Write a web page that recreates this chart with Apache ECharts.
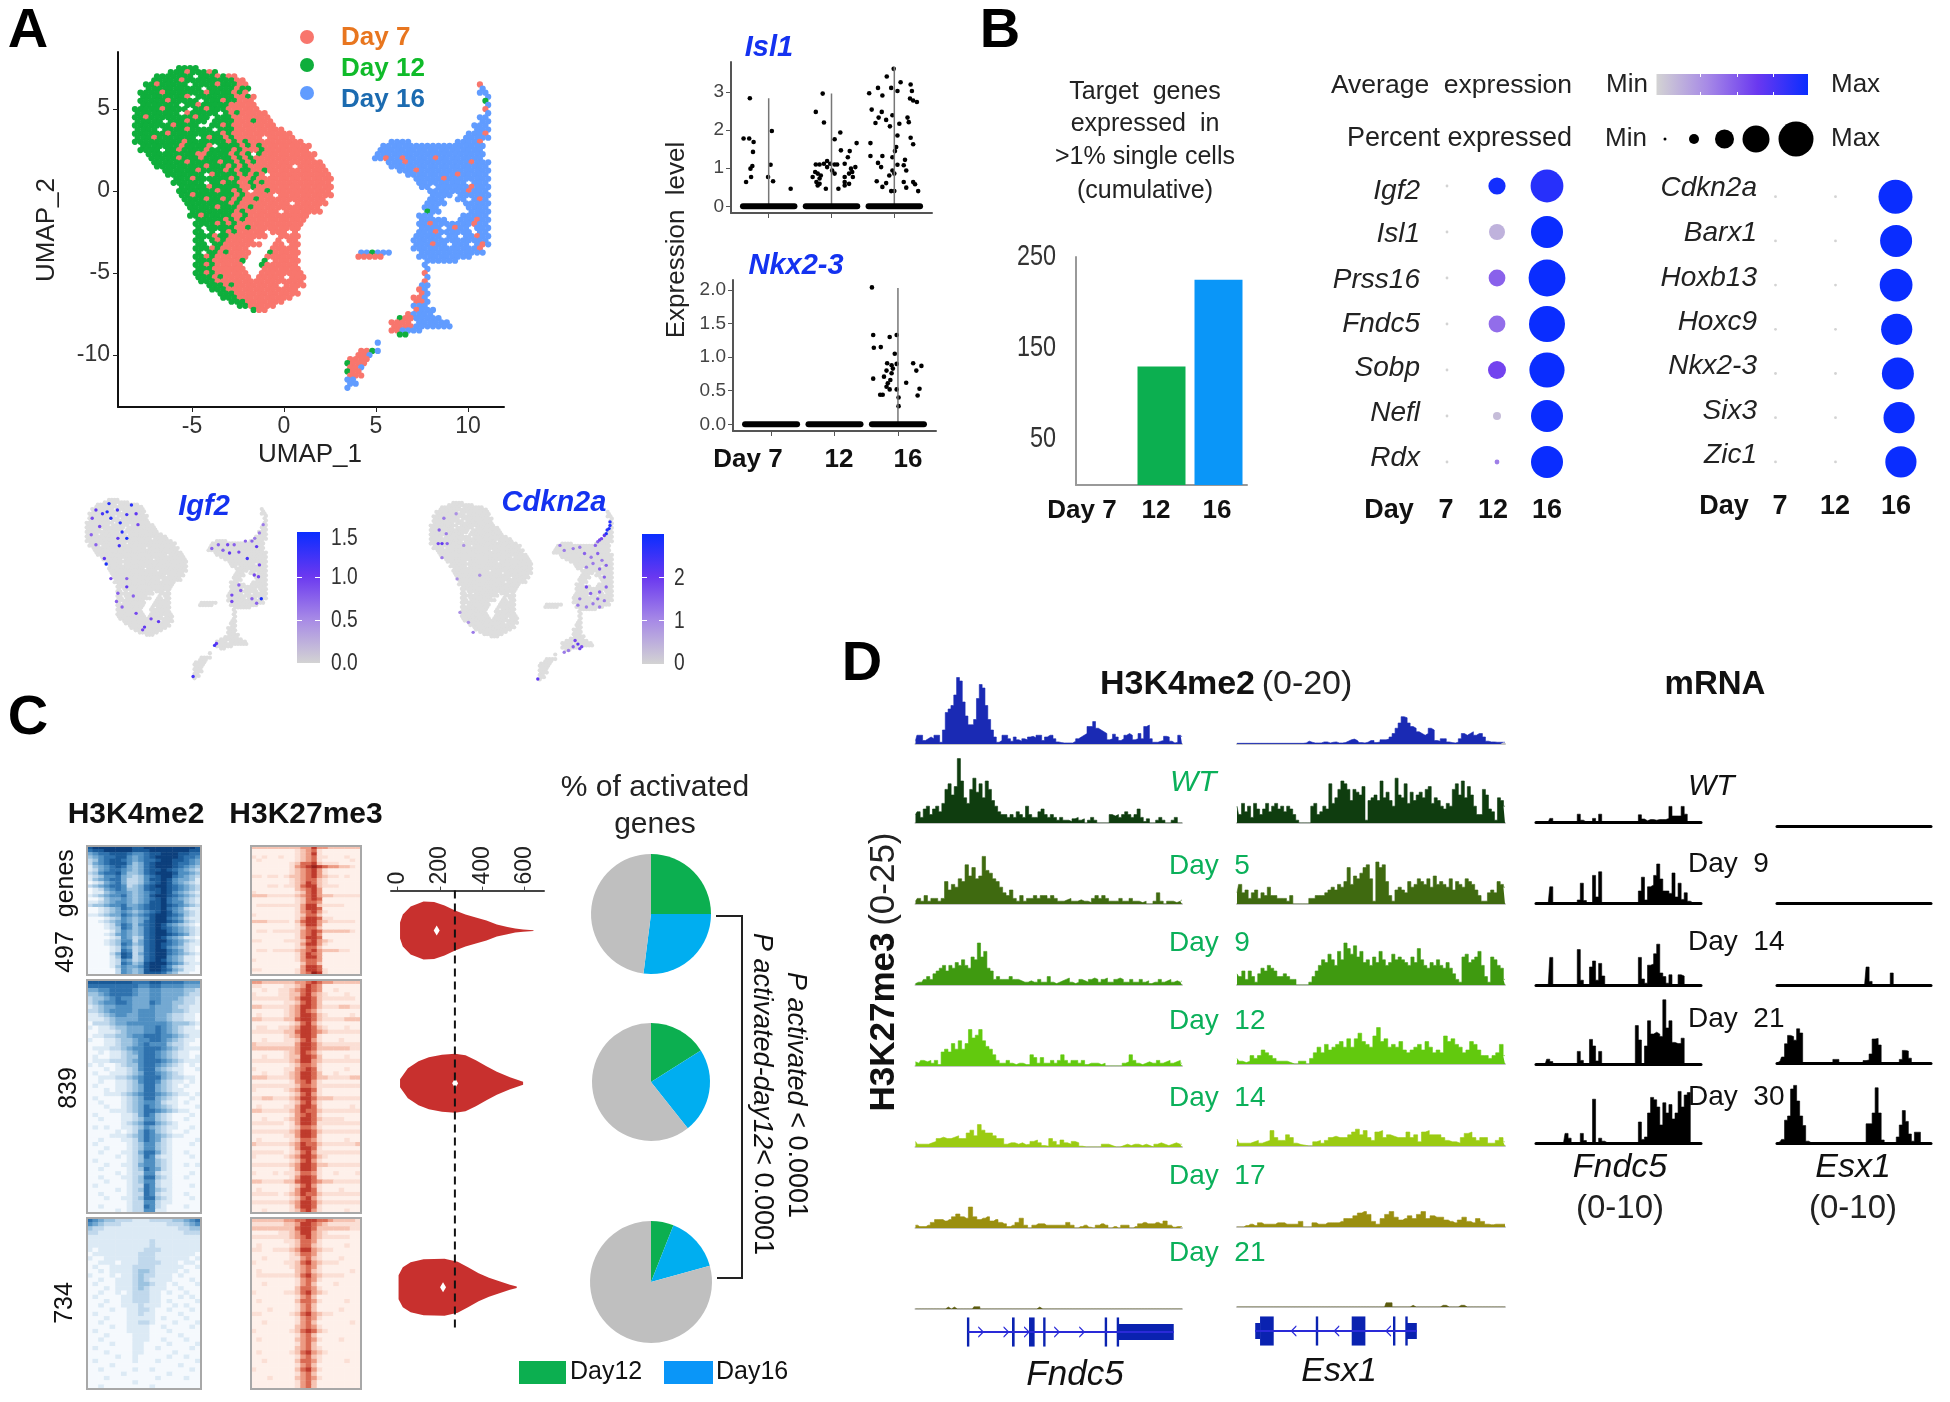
<!DOCTYPE html>
<html>
<head>
<meta charset="utf-8">
<style>html,body{margin:0;padding:0;background:#fff}#main{width:1950px;height:1402px}</style>
<script src="https://cdn.jsdelivr.net/npm/echarts@6/dist/echarts.min.js"></script>
</head>
<body>
<div id="main"></div>
<script>
const umapMain = [
"        gggg",
"      gggrgggrg",
"    ggggggg gggrgrr",
"   gggggrgggggggggrr",
"  ggrggggg ggggrgggrr",
"  gggggggggg gggggrgg",
" ggggrgggggggrggggrgr",
" ggggggggr gggggggrrgr",
" gggggrggggg gggrggrrr",
" ggggggg ggrgggggrrrrr",
"gggggrgggg ggrgggrrrrrr",
"gggggggg rggggg grgrrrrr",
"ggrggggggggrgg gggrrrrrrr",
"ggggg gggrggg ggggrrrgrrr",
"gggggggrgggg  ggrgrrrrrrrr",
"gggg ggggrgggg gggrrrrrrrrr",
"ggggggrgggggggggrgrrrrrrrrrrr",
"gggrggggggg grggrgrrrrr rrrrr",
"gggggggggrgggggggrgrgrrrrrrrrrr",
" gggggggrggggr ggggrgrgrrrrrrrrr",
" gggg ggrggggrggggrgrrrgrrrrrrrr",
"  gggggggggrrggggrgrg grrrrrrrrrr",
"   gggggrgggrgggggrgrgrrrrrrrrrrr",
"   ggggggrgggggrggrgrgrrrrrrrrrrrr",
"    gggggggggrgggrgrgrrrrrrrr rrrrr",
"     ggggggrggggrgrggrrgrrrrrrrrrrr",
"      ggggggg rggggrgrgr rrrrrrrrrrr",
"       gggrggggggrgrrgrrrrrrrrrrrrrr",
"       gggggg ggrggrrgrgrrrrrrrrrrrr",
"        gggggrgggggrrgrrrrrrrrrrrrrr",
"        gggggggrggrgr rrgrrrrrrrrrrr",
"        ggrgggggggrgrrrrr rrrrrrrrrr",
"         ggggrggrgrgrrgrrrrrrrrrrrr",
"         ggggggggrgrrrrrrrrr rrrrrr",
"          gggggrgggrrgrrrrrrrrrrrr",
"          ggggggggrgrrrrrr rrrrrrr",
"          ggrgggggrrgrrrrrrrrrrr",
"           gggggrgrgrrrrrrrrrrr",
"           ggggrgrgrrrrrrrrrrrr",
"           g gggggrrgrrrrrrrrr",
"           gg g grgrrrrr rrr r",
"           gggrggrrrrrrr  rrrr",
"           gg grgrrrrr    r rr",
"           gg ggrrrrrrr  rr rr",
"           gggrgrrrrr    rrrrr",
"           g ggrgrrrr   grrrrr",
"           ggrgrrrrrr   rrrrrr",
"           gggrrrrrg   g rrrrr",
"           ggrgrrrrr   grrrrrr",
"           gggrrrrrr   rrrrrrr",
"           ggrgrrrrrr  rrrrrrrr",
"           gggrgrrrrr rrrrr rrr",
"            gggrrrrrrrrrrrrrrrr",
"             gggrgrrrrrrrr rrrr",
"              gggrrrrrrrrrrrrr",
"               gggrrrrrrrrrrrr",
"                gggrrrrrrrrrr",
"                 gggrrrrrrr",
"                   ggrrrrr",
"                     grr"
];
const umapRight = [
"                         r",
"                         b",
"                         bb",
"                          b",
"                          g",
"                          b",
"                          r",
"                          b",
"                         bb",
"                         bb",
"                        bbb",
"                        bbb",
"                       bbbr",
"                      bbbbb",
"         bbbb        bbbbr",
"       bbbbbbbbbbbbbbbbbbb",
"       bbbbbbbbbbbbbbbbbbb",
"      bbbbbbbbbbbbbbbbbbbb",
"      bbrbbrbbbbbrbbbbbbbb",
"        bbbrbbbbbbbbbbbrbbb",
"         bbbbbbbbbbbbbbbbbb",
"          bbbrbbbbbbbbbbbbb",
"            bbbbbbbbbrbbbbb",
"             bbbbbrbbbbbbbb",
"              bbbbbbbbb bbb",
"              bb bbbbbbrbbb",
"                bbbbbbbrbbb",
"                bbbb bbbbbb",
"                bbb  bb brb",
"               bbbb   bbbbb",
"               bbb     bbbb",
"               gbb     bbbb",
"              bbb     bbbbb",
"              bbbbb  bbbrbb",
"              bbrbbbbbbbrbb",
"              bbbb brbb bbb",
"              bbbrbbbbbb bb",
"             bbbbb bb bbrbb",
"             bbbbbbbbbbbbbb",
"             bbbrbb bbb brb",
"             bbbbbbbbbbbbr",
"   bbgbbb     bbbbbbbbbbbb",
"   rrrrr      bbbbbbbbbb",
"               bbbbbb",
"               b",
"               b",
"               r",
"               b",
"               r",
"              bb",
"              rb",
"              rb",
"             rrb",
"             rrb",
"             bbb",
"             rbbb",
"            rbbbb",
"          grrbbbbb",
"         rrrr bbbbbb",
"         rrrrbbbbbbb",
"         rrbbbb",
"          gg",
"",
"      b",
"",
"   rrgb",
"   rrb",
" rrrr",
" grrr",
" rrb",
" grr",
" rrr",
" bb",
" bb",
" b"
];
const umapTicksX = [-5, 0, 5, 10];
const umapTicksY = [-10, -5, 0, 5];

// feature plots: x, y, expression (0-1 of the colour bar)
const igf2Cells = [[-5.7,7.1,.9],[-7.1,6.4,.7],[-5.9,6.2,.9],[-4.8,6.4,.8],[-3.3,6.95,.9],[-2.8,6,.7],[-3.8,5.9,.8],[-5.5,5.5,.9],[-6.4,6,.8],[-7.5,5.5,.6],[-6.7,4.6,.6],[-4.5,5,.9],[-4.3,4,.9],[-3.8,3.3,.95],[-4.75,3.3,.7],[-2.6,4.8,.6],[-7.6,3.7,.5],[-4.6,2.5,.8],[-7.1,2.6,.5],[-6.2,1.1,.7],[-6,.5,.95],[-5.5,-1.1,.6],[-3.8,-1.1,.5],[-3.8,-2,.7],[-4.75,-2.7,.5],[-3.1,-3,.5],[-4.9,-3.6,.5],[-4.3,-4.2,.5],[-2.8,-4.9,.6],[-1.2,-5.5,.6],[-.4,-5.8,.7],[-2.1,-6.7,.6],[-1.9,-6.4,.7],[5.3,2.2,.5],[6,2.6,.5],[7,2.6,.6],[7.7,2.6,.5],[8.2,1.8,.6],[7.2,1.7,.7],[6.5,2,.5],[8.9,3,.5],[9.6,3,.5],[9.9,3.3,.4],[10.4,3.9,.4],[10.8,4.8,.4],[10.1,2.4,.7],[9.1,1.1,.8],[10.4,.4,.6],[9.85,-.7,.6],[10.3,-.9,.6],[8.2,-1.8,.5],[7.45,-2.9,.6],[8.4,-2.4,.5],[7.45,-3.6,.6],[9.6,-3.3,.5],[10.6,-3.3,.95],[10.1,-3.8,.5],[5.8,-8.2,.7],[5.6,-8.4,.8],[3.3,-11.8,.8]];
const cdkn2aCells = [[-6.7,5.8,.4],[-7.2,4.5,.5],[-6.45,4.1,.4],[-7.3,3,.6],[-6.9,3,.7],[-6.35,3,.5],[-6.9,1.45,.4],[-5.4,6.3,.3],[-4.6,2.8,.3],[-5.3,-.9,.3],[-5,-4.6,.3],[-3.6,-6.8,.4],[-4.1,-5.7,.3],[-2.9,-.5,.3],[10.9,5.4,.9],[10.8,4.66,.95],[10.5,4.1,.95],[10,3.55,.6],[9.6,3.2,.5],[9.35,2.8,.5],[10.9,5,.9],[10.6,4.5,.9],[10.3,3.9,.7],[9.8,3.4,.6],[5.6,2.8,.4],[6.05,2.25,.4],[7,2.45,.4],[7.7,2.6,.4],[8.2,1.9,.5],[8.9,1.5,.4],[9.6,1.9,.5],[10.05,1.15,.4],[9.8,.2,.5],[10.5,.6,.5],[8.4,.4,.4],[9.1,.8,.4],[10.3,-.7,.5],[10.5,-1.8,.5],[9.8,-2.35,.5],[10.3,-3.3,.4],[9.6,-3.1,.5],[8.4,-1.8,.6],[8.85,-2.5,.5],[7.7,-3.1,.4],[7.5,-3.8,.4],[9.1,-3.65,.4],[8.4,-4,.4],[9.8,-4,.4],[7.2,-7.7,.6],[7.5,-8.1,.7],[7.9,-8.4,.6],[7,-8.4,.5],[6.5,-8.8,.4],[6.05,-9,.4],[7.7,-8.6,.6],[3.25,-11.95,.7]];
const igf2BarLabels = ['1.5', '1.0', '0.5', '0.0'];
const cdkn2aBarLabels = ['2', '1', '0'];

// violin-strip cells
const isl1Points = [[.70,2.84],[.60,1.78],[.69,1.78],[.76,1.69],[.75,1.43],[.74,1.06],[.71,.99],[.64,.64],[.72,.77],[1.05,1.98],[1.03,1.09],[.99,.77],[1.07,.66],[1.35,.46],
[1.86,2.96],[1.75,2.48],[1.88,2.2],[2.05,1.76],[2.14,1.94],[2.4,1.66],[2.15,1.47],[2.29,1.45],[2.26,1.29],[1.75,1.10],[1.81,1.10],[1.88,1.12],[1.93,1.19],[1.98,1.12],[2.05,1.10],[2.09,1.10],[2.21,1.12],[1.74,.90],[1.78,.86],[1.83,.81],[1.70,.77],[1.81,.73],[1.76,.64],[1.81,.59],[1.78,.55],[1.93,1.03],[2.01,.94],[2.05,.86],[1.91,.46],[2.11,.46],[2.21,.64],[2.21,.77],[2.28,.86],[2.31,.99],[2.38,1.03],[2.34,.77],[2.28,.59],[2.21,.55],[2.33,.90],
[2.99,3.61],[2.88,3.41],[2.60,2.97],[2.74,3.11],[2.81,2.91],[2.95,3.11],[3.05,3.03],[3.10,3.26],[3.26,3.2],[3.28,3.03],[3.25,2.83],[3.36,2.74],[3.30,2.78],[2.64,2.54],[2.80,2.48],[2.75,2.33],[2.87,2.27],[2.70,2.19],[2.97,2.39],[2.93,2.10],[3.08,2.17],[3.21,2.33],[3.23,2.21],[3.05,1.86],[3.26,1.80],[3.30,1.63],[2.62,1.66],[3.03,1.56],[3.01,1.45],[2.62,1.32],[2.81,1.32],[2.97,1.29],[3.17,1.22],[2.74,1.14],[2.79,1.03],[3.05,1.09],[3.15,1.08],[2.97,.94],[3.0,.86],[3.19,.94],[2.92,.81],[2.72,.66],[2.87,.61],[2.81,.51],[3.15,.64],[3.30,.64],[3.33,.58],[3.19,.49],[2.95,.40],[3.0,.40],[3.38,.40]];
const isl1Tops = [2.84, 2.96, 3.66];
const nkxPoints = [[2.59,2.04],[2.61,1.33],[2.87,1.30],[2.98,1.33],[2.62,1.14],[2.73,1.15],[2.95,1.05],[2.83,.91],[2.98,.90],[2.90,.88],[3.24,.91],[3.37,.87],[3.29,.80],[2.92,.83],[2.82,.80],[2.90,.76],[2.61,.68],[2.78,.71],[2.88,.66],[2.84,.61],[3.13,.62],[2.82,.56],[2.87,.52],[2.98,.52],[3.34,.53],[3.31,.43],[2.72,.44],[2.76,.44],[3.01,.40],[3.01,.27]];
const nkxTops = [0, 0, 2.03];
const zeroBands = [[.59,1.41],[1.59,2.41],[2.59,3.41]];

// panel B
const barDays = ['Day 7', '12', '16'];
const barGenes = [0, 130, 225];
const barTicks = [50, 150, 250];
const dotGenesLeft = ['Igf2','Isl1','Prss16','Fndc5','Sobp','Nefl','Rdx'];
const dotGenesRight = ['Cdkn2a','Barx1','Hoxb13','Hoxc9','Nkx2-3','Six3','Zic1'];
const pctLeftDay12 = [43, 40, 42, 42, 45, 20, 12];
const pctLeftDay16 = [82, 80, 92, 90, 88, 80, 80];
const avgLeftDay12 = [.97, .15, .5, .45, .62, .1, .38];
const avgLeftDay16 = [.9, 1, 1, 1, 1, 1, 1];
const pctRightDay16 = [85, 80, 82, 78, 80, 78, 78];
const rightDay16Col = [2, 2.01, 2.01, 2.02, 2.04, 2.06, 2.09];
const tinyPct = 7;

// panel C heatmaps, digits are signal levels per cell
const k4Top = [
"78888888778888888887","67788888777888888877","45667776556778887766","34566775456788887665","23567765456678877654","24567775346788876654","13456764346788876543","12456654346778765432","23566753346788875543","12355643235678865432",
"13456642235778754431","01245642235678754321","23456652346788765432","01245653346778765432","01134554345678754321","12345564345788765432","00134454345678654321","11234554345778655321","23345564456778765432","00123465456778654211",
"00123454345678754321","11234465456788765321","00012354345788654211","00123454346788765321","00012465356787543210","00012365346787654321","00001354346788654321","00012454346788765421","00001254236787543110","00012355246788654321",
"00012365346787654211","00001254236787543210","00001265236788654210","00002476246788654321","00001376236788543110","00001254236787543110","00001265347888654211","00001354457887532110","00000254347887643110","00000254347776431100"];
const k4Mid = [
"77777777666776666555","66666666655665555444","44556666544554444332","33456666544554444322","23345655444554443221","23455665444654433221","12344555444544432211","22345555455544433211","11234554455544322110","11123444455544322110",
"02223445555555433321","10112334445565432110","00111234445565432111","01122334556665543211","10011233455665432110","00011233456555322100","01112234556665432111","00101123456654321100","01001123356654321101","01112223456665432111",
"10100123356654321010","00010112356643211001","01001112346654321000","00111223456664322110","00100112356653211010","01000112346643210100","00010112346643211000","00011123456654321101","01000012346643210010","00100012345542110100",
"00010012346543210001","00001112346654321100","01000011246532100010","00100011235532100100","00000012346643210000","01010011235432110010","00000101246532100100","00001112346543211000","00100011246542100001","01000001235532100010",
"00010001235532100000","00100011246642100100","00000101236521100010","01000001235532100000","00010011245532100101","00100001236542100000","00000101225521100010","00100011236632100100","00010001235521100000","01000001226521100010",
"00000101236532100000","00100001226521100100","00010011236632100010","00000001225521100000","00100001226521000100","00000101225511000000"];
const k4Low = [
"65433222111222233456","54322211111111222345","32211111111111112233","22111111111111111222","11111111111111111111","11111111111211111111","11111111111211111111","10111111112221111111","01111111122211111110","10011111122211111101",
"00111011122221110110","01001111222211111001","00101111233211110100","10001011232211101000","00100111232111100010","01000111233211010001","00010111232111001000","00100101222110100100","01000011222110001010","00010011222110100001",
"00100011121110010100","00001001122100100010","01000001121100001000","00010001111101000100","00100001122100010001","00001001111001000010","01000001111000100000","00010000111000001000","00100000111001000100","00001000110000100001",
"01000000110010000010","00010000110000010000","00000100100000100100","01000000100010000001","00001000000000001000","00100000100100000010","00000010000000100000","00010000000010000100","00000000100000000000","00100000000100000000"];
const k27Top = [
"22222222233533222222","00000000123410000000","00000000123510000000","10100100123411000100","01000000123410000010","00000001244521110000","00000001345654332210","00000001234531000000","00000001234531000000","11011012234532110100",
"00000001234421000000","00000001235421000000","00011011245521110000","00000000234530000000","10000000124530000000","22211111234532211111","00000000124540000000","00000000124430000000","01111111135521111000","00000000135540000000",
"00000000134531000000","10000000124420000000","00000000135541100000","22211110245532111110","00000000135530000000","00000000124420000000","01101111134542222210","00000000134530000000","00000000135540000000","11000011124532100000",
"00000000135531000000","00000000124420000000","01101111234532221100","00000000135430000000","00000000135530000000","10000000134430000000","00000000024420000000","00000000035540000000","11000000135541000000","00000000134651000000"];
const k27Mid = [
"33222222334543322222","11000011235430000000","00100112345430010000","10000112245321000100","11111112355421111110","00000011245420000000","22111112355421112211","00000012354310000000","01000012355421000010","22111122455421111222",
"00000001245310000000","01100112355421000100","11111122455432111111","00000012355410000000","00100011245310001000","21111111355421111111","22222222355422222211","00000012354310000000","00100012255420000100","11111112355321111111",
"00000001244310000000","10000011345410000100","00100012355420010000","22211112355422111122","00000001345310000000","11111111244311111111","10000012355410000000","00000001245310000000","11221112355422211111","00000001245310000000",
"01000011355410000010","22111112354421111111","00000001345410000000","00100012355421111000","11111101355411111111","00000001244310000000","11111112355421111111","00000011355410000000","01000001244310000100","21111112354421111112",
"00000001355410000000","11111101245311111111","10000012355421000000","00000001245310000000","11111112355422111111","00000001355410000000","10001011244310010001","00000001355410000000","22111122455432211111","00000001245310000000",
"01000001355410001000","11111012354421111111","00000001245310000000","11111112355421111111","00000001355410000000","00100001245310000100"];
const k27Low = [
"22222233445544322221","11111122355432111111","22222222455422222211","00000112355321000000","11111112345321111100","00000011244310000000","01000001244210000100","11001112355321100000","00000001244310000000","00100001134210001000",
"10000011245321110000","00000001234310000000","01000000234210000010","01111111245321111000","00000000134310000000","00100000134200010000","00000000244310000000","10000011245321000000","00000000134200000000","01000000244310000100",
"00000000134200000000","00010000134200001000","11000001245321100000","00000000134310000000","00100000134200000010","00000000234310000000","10000001245421000000","00000000134200000000","01000000234310001000","00000000134200000000",
"00000000234210000000","01000001245321000000","00000000134210000000","00100000244310000100","00000000134200000000","10000000245310000000","00000000134200000000","00010000234310000000","00000000134200000000","00000000134200000000"];

// violins: target-gene value, half width
const violinTop = [[12,0],[12,8],[25,16],[62,24],[123,29],[173,28.5],[222,25],[272,20],[321,16],[370,13],[420,10],[469,6],[519,3.7],[556,2],[593,1.2],[642,.4]];
const violinMid = [[12,4],[49,15],[99,22],[148,26],[210,28.5],[272,29.5],[321,28],[370,23],[420,17],[469,11.5],[531,6],[593,1.5]];
const violinLow = [[5,0],[5,12],[25,20],[62,25],[123,28],[222,28.5],[284,25.5],[333,20],[383,14],[432,9.5],[481,6],[531,2.5],[563,.8]];
const violinMedians = [185, 272, 215];
const violinRef = 271;
const violinTicks = [0, 200, 400, 600];

const pieTop = [25, 27, 48];
const pieMid = [16, 23.3, 60.7];
const pieLow = [6, 14.7, 79.3];

// panel D tracks
const k4Fndc5 = [1,2.5,2.5,1,1.5,2,1.5,2.5,2.5,.5,4,9,10,11,14,19,18,12,8,5.5,5.5,7,13,17,16,11,7,4,2,.5,1,2.5,2.5,1.5,.8,2,1.2,.8,1.5,1.2,2,2.2,1.8,2.5,2.5,1,2,2.5,2.5,1.5,.6,.4,.3,.3,.3,.3,.8,1.5,2,2.5,3,5,5,6.4,4.5,4,3.5,3,1.2,1.5,2.8,2,1,1.5,2.5,3,2.5,1.2,1.5,3,1.5,5,5.4,1.5,.5,.5,.8,1,2.2,2,.8,.3,.5,2.5,2];
const k4Esx1 = [.2,.2,.2,.2,.2,.2,.2,.2,.2,.2,.2,.2,.2,.2,.2,.2,.2,.2,.2,.2,.2,.2,.2,.3,.8,.5,.3,.3,.3,.6,.6,.3,.5,.6,.3,.3,.4,.8,1.2,1.4,1,.4,.3,.5,1,1,.4,.6,1.2,1.2,1.4,2,3,4.5,6,7.8,7.5,6,5,4.5,3.5,3,2.5,3,4.5,4,1,.8,1.5,1.5,.6,.4,.3,.5,1.5,3,2.5,3,3.5,2.5,3,3,2,.8,.6,.6,.5,.5,.5,.5];
const wtFndc5 = [3,4,2,5,6,3,5,6,4,7,12,14,10,13,23,15,9,7,12,16,11,14,9,15,12,8,6,4,3,3,2,3,2,4,3,2,6,3,2,2,4,5,3,2,3,2,1,2,1,1,.5,1.5,2,1,1.5,0,1,2,1,0,0,0,0,3,2.5,3,2,3,4,3,2,3,5,2,.5,1.5,0,0,1,2,1,0,0,1,2,0,0];
const wtEsx1 = [6,3,7,4,6,2,7,5,3,5,7,4,6,7,5,6,4,6,5,3,1,0,0,0,0,6,7,3,4,6,5,14,7,9,12,15,14,12,8,12,11,10,13,1,8,9,10,8,15,9,11,8,6,16,10,9,14,7,11,8,10,11,9,12,13,7,9,8,6,5,7,6,12,14,10,15,9,13,10,6,3,3,12,10,5,4,1,9,8,6];
const day5Fndc5 = [1,2,1,3,1,2,2,1,2,8,5,7,6,9,8,14,10,13,9,10,17,12,11,9,8,6,4,3,5,2,1,3,1,2,2,3,2,3,3,2,3,2,1,1,1.5,2,1,1,1.5,1,1,.5,2,3,2,3,2,1,1,1,2,1,1,2,1,1,.5,1,0,0,1,4,1,0,1,1,.5,1,1.5];
const day5Esx1 = [4,7,4,5,2,4,5,2,4,3,6,3,3,2,2,2,1,3,0,0,0,0,0,2,2,3,3,3,4,5,6,5,7,6,8,13,7,10,9,11,13,14,9,1,15,13,14,8,3,1,5,6,5,4,8,6,7,9,8,7,9,6,10,7,8,7,6,9,5,8,7,6,9,8,7,5,3,1,1,4,5,4,8,7,6];
const day9Fndc5 = [.5,1,1,2,3,2,4,5,6,7,5,7,6,8,7,9,7,6,10,9,15,10,12,6,5,2,3,2,2,2,3,2,2,1.5,1,1,1.5,1,1,2,1,1,3,1,.5,1,1.5,2,2.5,1,.5,1,2,1.5,1,2,2.5,2,1,2,2.5,1,1,2,2.5,2,1,1,2,1,1,2,1,1.5,.5,1,1,2,1,1.5,2,1,1.5,1,1.5];
const day9Esx1 = [4,3,5,2,5,3,1,4,6,5,7,6,5,3,3,4,3,2,2,0,0,0,0,1,3,5,7,9,8,11,9,7,12,9,15,13,11,14,10,12,8,9,7,10,8,12,9,7,8,11,9,10,9,8,7,10,8,13,9,7,6,8,7,9,7,6,8,6,4,2,1,10,11,8,9,10,12,7,3,1,10,9,7,6,2];
const day12Fndc5 = [1.5,1,2,1.5,2,1,2,.5,5,6,5,8,6,9,6,8,13,10,11,13,9,7,6,4,2,1,1,2,1,.5,1,1,.5,.5,4,3,1,3,1,1,2,1,2,4,2,1,2,2,1,2,.5,1,1,1,.5,1,0,0,0,0,0,1,1.5,4,2,1,.5,1,1.5,1,1,2,1,1.5,2,1,1.5,2,1];
const day12Esx1 = [2,1,.5,1,3,2,3,5,4,3,2,1,1,1,.5,0,0,1,1,0,2,4,6,4,7,5,6,7,8,6,9,6,9,11,8,7,6,10,13,8,9,6,7,6,8,5,4,5,6,7,5,8,6,4,5,4,10,8,9,7,6,4,5,8,7,5,3,3,2,3,4,7,3];
const day14Fndc5 = [2,1,1,1,1.5,2,3,3.5,3,3,3.5,4,3,3,5,6,4,8,6,5,5,4,3,3,1,1.5,1.5,1,1.5,.8,1,2,2.5,1.5,.5,.3,3,2,.8,2.5,1.5,1,2,1.5,.3,0,0,0,0,0,1,1,.5,0,0,.5,1,.5,1,1,.5,1,.5,0,1,1.5,1,.5,1,1.5,1,1];
const day14Esx1 = [2.5,1,1,1,1.5,2,1,1.5,2,5.5,3,2,2,4,3,1,.5,.3,0,0,1.5,2,1,2,3,3.5,3,3,3,4,5,6,4,5.5,3,2,5,5.5,3,4,3.5,3,3,3,5,3,4,1.5,5,5.5,4,4,4,3,2,1.5,1.5,1,3,4.5,5,3,2,3,3,1,1,2,3,1.5];
const day17Fndc5 = [1,.5,.5,1,2,3,3,2.5,3,4,5,4,3.5,7.5,4,3,3.5,4,2.5,3,2,1.5,.5,1,2,3.5,1,0,1,1.5,1.5,1,1,1,1,1,2,1,0,.5,1,.3,0,1,1.5,1,0,.5,0,1,1,0,.5,1.5,2,1.5,1.5,2,1.5,2.5,1,.3,.5,.5];
const day17Esx1 = [0,0,.5,1,.5,1.5,1,1,1,1.5,1.5,1,1,1,2,0,0,1.5,1,1,1.5,1.5,1.5,2,3,3,4,5,5.5,4.5,2,1,3,4.5,5.5,3.5,2.5,3,4,3,4.5,5.5,3,4,3.5,3.5,2.5,2,1.5,2.5,3.5,2,1.5,3,2,1,.8,1,1,1];
const day21Fndc5 = [0,0,0,0,0,0,0,0,0,0,0,.7,0,.7,0,0,0,0,0,0,.8,.8,0,0,0,0,0,0,0,0,0,0,0,0,0,0,0,0,0,0,0,.7,0,0,0,0,0,0,0,0,0,0,0,0,0,0,0,0,0,0,0,0,0,0,0,0,0,0,0,0,0,0,0,0,0,0,0,0,0,0,0,0,0,0,0,0,0,0,0,0];
const day21Esx1 = [0,0,0,0,0,0,0,0,0,0,0,0,0,0,0,0,0,0,0,0,0,0,0,0,0,0,0,0,0,0,0,0,0,0,0,0,0,0,0,0,0,0,0,0,0,0,0,0,0,0,1.5,1.5,0,0,0,0,0,0,.6,0,0,0,0,0,0,0,0,0,.6,.6,0,0,0,0,.6,.6,0,0,0,0,0,0,0,0,0,0,0,0,0,0];

const mrnaFndc5WT = [0,0,0,0,0,.6,0,0,0,0,0,0,0,0,1.3,.3,0,0,0,.6,0,1.3,0,0,0,0,0,0,0,0,0,0,0,0,1.2,.5,.2,.4,.4,.3,.4,.4,.4,.6,2.6,1,1,1,2.6,1.3,0,0,0,0,0];
const mrnaFndc5D9 = [0,0,0,0,0,2.7,0,0,0,0,0,0,0,0,.5,3.3,.4,0,0,4.6,1,5.2,0,0,0,0,0,0,0,0,0,0,0,0,2,4.3,.5,2.7,3,4.6,6.5,4,2,2,1.6,5,1,3.3,.6,1.7,.3,0,0,0,0];
const mrnaFndc5D14 = [0,0,0,0,0,4.6,0,0,0,0,0,0,0,0,5.9,.8,0,0,3,4,.8,3.6,1.5,0,0,0,0,0,0,0,0,0,0,0,4.6,1,.3,3.3,3.5,5.2,6.8,2,1.4,.3,1.7,0,0,1.7,1.5,0,0,0,0,0,0];
const mrnaFndc5D21 = [0,0,0,0,.8,.4,0,0,0,0,0,0,0,0,2.1,.6,0,0,4.1,3,.5,2.1,0,0,0,0,0,0,0,0,0,0,0,6.4,4,0,3,7.2,5,5.3,5,4.6,10.7,6,7.2,3.6,3.4,3.4,4.3,0,0,0,0,0,0];
const mrnaFndc5D30 = [0,0,0,0,0,0,0,0,0,0,1.6,.8,0,0,0,1.6,.4,0,0,7.3,0,.8,.3,0,0,0,0,0,0,0,0,0,0,0,3.5,.6,1,5,7.6,7.2,6,3,6.7,5,6.4,4,5,8.6,6,8,8.4,0,0,0,0];
const mrnaEsx1WT = [0,0,0,0,0,0,0,0,0,0,0,0,0,0,0,0,0,0,0,0,0,0,0,0,0,0,0,0,0,0,0,0,0,0,0,0,0,0,0,0,0,0,0,0,0,0,0,0,0,0,0,0];
const mrnaEsx1D9 = [0,0,0,0,0,0,0,0,0,0,0,0,0,0,0,0,0,0,0,0,0,0,0,0,0,0,0,0,0,0,0,0,0,0,0,0,0,0,0,0,0,0,0,0,0,0,0,0,0,0,0,0];
const mrnaEsx1D14 = [0,0,0,0,0,0,0,0,0,0,0,0,0,0,0,0,0,0,0,0,0,0,0,0,0,0,0,0,0,0,3,.6,0,0,0,0,0,0,2,0,0,0,0,0,0,0,0,0,0,0,0,0];
const mrnaEsx1D21 = [0,.3,1,3.2,4.6,4.4,3.8,5.7,5,0,0,0,0,0,0,0,0,0,0,.6,.6,0,0,0,0,0,0,0,0,.4,.5,1.5,4,4.1,3,0,0,0,0,0,0,.6,2.1,2,.8,0,0,0,0,0,0,0];
const mrnaEsx1D30 = [0,.2,.6,3.8,4.5,9,9.6,7,4.5,2.9,.3,0,0,0,0,0,0,0,0,0,0,0,0,0,0,0,0,0,0,0,3.2,3.2,5,9.2,5,.5,0,0,0,0,1,3,5.4,3.6,1.5,.3,1.8,1.8,0,0,0,0];

// exons as start, end, relative height on a 0-100 gene window
const fndc5Exons = [[19.3,20.2,1],[36.2,37.2,1],[42.6,44.7,1],[47.9,48.8,1],[71,71.9,1],[75.5,76.4,1],[75.9,96.9,.55]];
const fndc5Intron = [19.7, 96.9];
const fndc5Arrows = [24.5, 34, 41.7, 53, 62.4];
const esx1Exons = [[6.8,8.6,.55],[8.6,13.7,1],[29.4,30.3,1],[42.8,47.9,1],[58.2,59.1,1],[62.8,63.7,1],[63.4,67.1,.55]];
const esx1Intron = [6.8, 67.1];
const esx1Arrows = [21.2, 37.2, 56.5];

const FONT = '"Liberation Sans", Arial, sans-serif';
const SCALE = ['#d3d3d3', '#a78ae6', '#6a38f0', '#0a2dff'];
const GENE_BLUE = '#1432f0';
const DAY_COLORS = { r: '#f8766d', g: '#0fae3c', b: '#619cff' };

const grid = [], xAxis = [], yAxis = [], series = [], graphic = [];
const expressionSeries = [], k4Series = [], k27Series = [];

function addAxes (box, xa, ya) {
  const i = grid.length;
  grid.push(Object.assign({ containLabel: false }, box));
  xAxis.push(Object.assign({ gridIndex: i, splitLine: { show: false } }, xa));
  yAxis.push(Object.assign({ gridIndex: i, splitLine: { show: false } }, ya));
  return i;
}
function addSeries (s) {
  series.push(Object.assign({ silent: true, animation: false }, s));
  return series.length - 1;
}
function txt (x, y, text, o) {
  o = o || {};
  graphic.push({
    type: 'text', x, y, rotation: (o.rotate || 0) * Math.PI / 180, scaleX: o.scaleX || 1, silent: true,
    style: {
      text,
      fill: o.color || '#111',
      font: `${o.style || 'normal'} ${o.weight || 'normal'} ${o.size || 24}px ${FONT}`,
      align: o.align || 'center',
      verticalAlign: 'middle',
      rich: o.rich
    }
  });
}
const hidden = { show: false };

// every other row sits half a cell over so the cloud does not read as a lattice
function cellsFromRows (rows, x0, y0) {
  const out = [];
  rows.forEach((row, r) => {
    for (let c = 0; c < row.length; c++) {
      if (row[c] !== ' ') out.push([x0 + c * 0.3 + (r % 2) * 0.15, y0 - r * 0.25, row[c]]);
    }
  });
  return out;
}
const umapCells = cellsFromRows(umapMain, -8.1, 7.5).concat(cellsFromRows(umapRight, 3.15, 6.5));

// --- panel A, main UMAP
const umapAxis = (ticks, min, max) => ({
  type: 'value', min, max,
  axisLine: { show: true, onZero: false, lineStyle: { color: '#111', width: 2 } },
  axisTick: { show: true, length: 5, customValues: ticks, lineStyle: { color: '#222' } },
  axisLabel: { customValues: ticks, fontSize: 23, fontFamily: FONT, color: '#333', margin: 8 }
});
let g = addAxes({ left: 118, top: 52, width: 386, height: 355 }, umapAxis(umapTicksX, -9.02, 11.96), umapAxis(umapTicksY, -13.17, 8.48));
addSeries({
  type: 'scatter', xAxisIndex: g, yAxisIndex: g, data: umapCells, symbolSize: 6.2,
  itemStyle: { opacity: 1, color: p => DAY_COLORS[p.value[2]] }
});
txt(310, 455, 'UMAP_1', { size: 26, color: '#222' });
txt(47, 230, 'UMAP_2', { size: 26, color: '#222', rotate: 90 });
[[37, 'r'], [65, 'g'], [93, 'b']].forEach(d => graphic.push({ type: 'circle', silent: true, shape: { cx: 307, cy: d[0], r: 7 }, style: { fill: DAY_COLORS[d[1]] } }));
txt(341, 38, 'Day 7', { size: 26, weight: 'bold', color: '#e8761f', align: 'left' });
txt(341, 69, 'Day 12', { size: 26, weight: 'bold', color: '#10bb2a', align: 'left' });
txt(341, 100, 'Day 16', { size: 26, weight: 'bold', color: '#1c6bb0', align: 'left' });

// --- panel A, feature plots
function featurePlot (box, cells) {
  const i = addAxes(box, { type: 'value', min: -9.02, max: 11.96, show: false }, { type: 'value', min: -13.17, max: 8.48, show: false });
  addSeries({ type: 'scatter', xAxisIndex: i, yAxisIndex: i, data: umapCells, symbolSize: 4.2, itemStyle: { opacity: 1, color: '#dedede' } });
  expressionSeries.push(addSeries({ type: 'scatter', xAxisIndex: i, yAxisIndex: i, data: cells, symbolSize: 3.4, itemStyle: { opacity: 1 } }));
}
featurePlot({ left: 78, top: 491, width: 196, height: 198 }, igf2Cells);
featurePlot({ left: 422, top: 494, width: 198, height: 196 }, cdkn2aCells);
txt(204, 507, 'Igf2', { size: 29, weight: 'bold', style: 'italic', color: GENE_BLUE });
txt(554, 503, 'Cdkn2a', { size: 29, weight: 'bold', style: 'italic', color: GENE_BLUE });

function colorBar (x, y, w, h, vertical) {
  graphic.push({
    type: 'rect', silent: true, shape: { x, y, width: w, height: h },
    style: { fill: new echarts.graphic.LinearGradient(0, vertical ? 1 : 0, vertical ? 0 : 1, 0,
      SCALE.map((color, i) => ({ offset: i / (SCALE.length - 1), color }))) }
  });
}
function barTick (x, y, w, h) {
  graphic.push({ type: 'rect', silent: true, shape: { x, y, width: w, height: h }, style: { fill: '#fff' } });
}
colorBar(297, 532, 23, 131, true);
colorBar(642, 534, 22, 130, true);
[577, 620].forEach(y => { barTick(297, y, 5, 1); barTick(315, y, 5, 1); barTick(642, y, 5, 1); barTick(659, y, 5, 1); });
igf2BarLabels.forEach((t, i) => txt(331, [538, 577, 620, 663][i], t, { size: 24, scaleX: .8, color: '#333', align: 'left' }));
cdkn2aBarLabels.forEach((t, i) => txt(674, [578, 621, 663][i], t, { size: 24, scaleX: .8, color: '#333', align: 'left' }));

// --- panel A, expression strips
function stripPlot (box, points, tops, yMin, yMax, ticks, digits) {
  const lineAxis = { show: true, onZero: false, lineStyle: { color: '#555', width: 2 } };
  const i = addAxes(box,
    { type: 'value', min: .4, max: 3.6, axisLine: lineAxis, axisLabel: { show: false, customValues: [1, 2, 3] }, axisTick: { length: 5, customValues: [1, 2, 3], lineStyle: { color: '#555' } } },
    { type: 'value', min: yMin, max: yMax, axisLine: lineAxis, axisTick: { length: 5, customValues: ticks, lineStyle: { color: '#555' } },
      axisLabel: { customValues: ticks, fontSize: 19, fontFamily: FONT, color: '#444', margin: 7, formatter: v => Number(v).toFixed(digits) } });
  tops.forEach((top, k) => {
    if (top > 0) addSeries({ type: 'line', xAxisIndex: i, yAxisIndex: i, showSymbol: false, data: [[k + 1, 0], [k + 1, top]], lineStyle: { color: '#777', width: 1.5 } });
  });
  zeroBands.forEach(b => addSeries({ type: 'line', xAxisIndex: i, yAxisIndex: i, showSymbol: false, data: [[b[0], 0], [b[1], 0]], lineStyle: { color: '#000', width: 6, cap: 'round' } }));
  addSeries({ type: 'scatter', xAxisIndex: i, yAxisIndex: i, data: points, symbolSize: 4.6, itemStyle: { opacity: 1, color: '#000' } });
}
stripPlot({ left: 731, top: 62, width: 201, height: 151 }, isl1Points, isl1Tops, -.175, 3.79, [0, 1, 2, 3], 0);
stripPlot({ left: 733, top: 280, width: 203, height: 151 }, nkxPoints, nkxTops, -.1, 2.15, [0, .5, 1, 1.5, 2], 1);
txt(769, 48, 'Isl1', { size: 29, weight: 'bold', style: 'italic', color: GENE_BLUE });
txt(796, 266, 'Nkx2-3', { size: 29, weight: 'bold', style: 'italic', color: GENE_BLUE });
txt(677, 240, 'Expression\u00a0\u00a0level', { size: 26, rotate: 90, color: '#222' });
txt(748, 460, 'Day 7', { size: 26, weight: 'bold' });
txt(839, 460, '12', { size: 26, weight: 'bold' });
txt(908, 460, '16', { size: 26, weight: 'bold' });

// --- panel B, bars
g = addAxes({ left: 1076, top: 257, width: 171, height: 228 },
  { type: 'category', data: barDays, axisLine: { lineStyle: { color: '#999', width: 2 } }, axisTick: { length: 3, lineStyle: { color: '#999' } }, axisLabel: hidden },
  { type: 'value', min: 0, max: 250, axisLine: { show: true, lineStyle: { color: '#999', width: 2 } }, axisTick: { length: 5, customValues: barTicks, lineStyle: { color: '#999' } },
    axisLabel: hidden });
addSeries({
  type: 'bar', xAxisIndex: g, yAxisIndex: g, barWidth: 48,
  data: barGenes.map((v, i) => ({ value: v, itemStyle: { color: ['#0caf50', '#0caf50', '#0a96f8'][i] } }))
});
barTicks.forEach((t, i) => txt(1056, [439, 348, 257][i], String(t), { size: 30, scaleX: .78, align: 'right', color: '#333' }));
['Target\u00a0 genes', 'expressed\u00a0 in', '>1% single cells', '(cumulative)'].forEach((t, i) => txt(1145, [92, 124, 157, 191][i], t, { size: 25, color: '#222' }));
txt(1082, 511, 'Day 7', { size: 26, weight: 'bold' });
txt(1156, 511, '12', { size: 26, weight: 'bold' });
txt(1217, 511, '16', { size: 26, weight: 'bold' });

// --- panel B, dot plots
function dotPlot (box, rows) {
  const i = addAxes(box, { type: 'value', min: -.5, max: 2.5, show: false }, { type: 'value', min: -.5, max: 6.5, inverse: true, show: false });
  expressionSeries.push(addSeries({ type: 'scatter', xAxisIndex: i, yAxisIndex: i, data: rows, symbolSize: v => v[3] * .4, itemStyle: { opacity: 1 } }));
}
const dotsLeft = [];
dotGenesLeft.forEach((n, r) => {
  dotsLeft.push([0, r, 0, tinyPct], [1, r, avgLeftDay12[r], pctLeftDay12[r]], [2, r, avgLeftDay16[r], pctLeftDay16[r]]);
});
const dotsRight = [];
dotGenesRight.forEach((n, r) => {
  dotsRight.push([0, r, 0, tinyPct], [1, r, 0, tinyPct], [rightDay16Col[r], r, 1, pctRightDay16[r]]);
});
dotPlot({ left: 1422, top: 163, width: 150, height: 322 }, dotsLeft);
dotPlot({ left: 1745.5, top: 174.6, width: 180, height: 309.4 }, dotsRight);
dotGenesLeft.forEach((n, i) => txt(1420, [191, 234, 280, 324, 368, 413, 458][i], n, { size: 28, style: 'italic', align: 'right', color: '#222' }));
dotGenesRight.forEach((n, i) => txt(1757, [188, 233, 278, 322, 366, 411, 455][i], n, { size: 28, style: 'italic', align: 'right', color: '#222' }));
['Day', '7', '12', '16'].forEach((t, i) => {
  txt([1389, 1446, 1493, 1547][i], 511, t, { size: 27, weight: 'bold' });
  txt([1724, 1780, 1835, 1896][i], 507, t, { size: 27, weight: 'bold' });
});
txt(1572, 86, 'Average\u00a0 expression', { size: 26.5, align: 'right', color: '#222' });
txt(1572, 139, 'Percent expressed', { size: 27, align: 'right', color: '#222' });
txt(1606, 85, 'Min', { size: 26, align: 'left', color: '#222' });
txt(1831, 85, 'Max', { size: 26, align: 'left', color: '#222' });
txt(1605, 139, 'Min', { size: 26, align: 'left', color: '#222' });
txt(1831, 139, 'Max', { size: 26, align: 'left', color: '#222' });
colorBar(1656.5, 74, 151.5, 21, false);
[1700, 1737, 1773].forEach(x => { barTick(x, 74, 1, 3); barTick(x, 92, 1, 3); });
[[1665, 3], [1694, 10], [1724.5, 19], [1756, 27], [1796, 35]].forEach(d => graphic.push({ type: 'circle', silent: true, shape: { cx: d[0], cy: 139, r: d[1] / 2 }, style: { fill: '#000' } }));

// --- panel C, heatmaps
function heatPanel (box, rows, bucket) {
  const cols = rows[0].length;
  const data = [];
  rows.forEach((row, r) => { for (let c = 0; c < cols; c++) data.push([c, r, Number(row[c])]); });
  const i = addAxes(box,
    { type: 'category', data: rows[0].split('').map((d, c) => c), axisLine: hidden, axisTick: hidden, axisLabel: hidden },
    { type: 'category', data: rows.map((d, r) => r), inverse: true, axisLine: hidden, axisTick: hidden, axisLabel: hidden });
  bucket.push(addSeries({ type: 'heatmap', xAxisIndex: i, yAxisIndex: i, data }));
  graphic.push({ type: 'rect', silent: true, z: 50, shape: { x: box.left, y: box.top, width: box.width, height: box.height }, style: { fill: 'none', stroke: '#a8a8a8', lineWidth: 2 } });
}
[[846, 129, k4Top, k27Top], [980, 233, k4Mid, k27Mid], [1218, 171, k4Low, k27Low]].forEach(p => {
  heatPanel({ left: 87, top: p[0], width: 114, height: p[1] }, p[2], k4Series);
  heatPanel({ left: 251, top: p[0], width: 110, height: p[1] }, p[3], k27Series);
});
txt(136, 815, 'H3K4me2', { size: 30, weight: 'bold' });
txt(306, 815, 'H3K27me3', { size: 30, weight: 'bold' });
txt(66, 911, '497\u00a0 genes', { size: 25, rotate: 90 });
txt(69, 1088, '839', { size: 25, rotate: 90 });
txt(65, 1303, '734', { size: 25, rotate: 90 });

// --- panel C, violins
g = addAxes({ left: 391, top: 890.6, width: 153, height: 440 },
  { type: 'value', position: 'top', min: -30.7, max: 691.7, axisLine: { show: true, onZero: false, lineStyle: { color: '#444', width: 2 } },
    axisTick: { length: 4, customValues: violinTicks, lineStyle: { color: '#444' } },
    axisLabel: { customValues: violinTicks, rotate: -90, fontSize: 23, fontFamily: FONT, color: '#222', margin: 6 } },
  { type: 'value', min: 0, max: 440, inverse: true, show: false });
function violinSeries (shape, center, median) {
  addSeries({
    type: 'custom', xAxisIndex: g, yAxisIndex: g, data: [[median, center]], clip: false,
    renderItem (params, api) {
      const top = shape.map(p => api.coord([p[0], center - p[1]]));
      const bottom = shape.slice().reverse().map(p => api.coord([p[0], center + p[1]]));
      const m = api.coord([median, center]);
      return { type: 'group', children: [
        { type: 'polygon', shape: { points: top.concat(bottom) }, style: { fill: '#c8302e' } },
        { type: 'polygon', shape: { points: [[m[0] - 3, m[1]], [m[0], m[1] - 5], [m[0] + 3, m[1]], [m[0], m[1] + 5]] }, style: { fill: '#fff' } }
      ] };
    }
  });
}
violinSeries(violinTop, 40, violinMedians[0]);
violinSeries(violinMid, 192.6, violinMedians[1]);
violinSeries(violinLow, 396.7, violinMedians[2]);
addSeries({ type: 'line', xAxisIndex: g, yAxisIndex: g, showSymbol: false, z: 5, data: [[violinRef, 0], [violinRef, 440]], lineStyle: { color: '#111', width: 2, type: [8, 5] } });

// --- panel C, pies
const PIE_NAMES = ['Day12', 'Day16', 'Other'];
const PIE_COLORS = ['#0caf50', '#00aef0', '#bfbfbf'];
[[pieTop, 914, 60], [pieMid, 1082, 59], [pieLow, 1282, 61]].forEach(p => addSeries({
  type: 'pie', center: [651, p[1]], radius: [0, p[2]], startAngle: 90, clockwise: true, label: hidden, labelLine: hidden,
  data: p[0].map((v, i) => ({ name: PIE_NAMES[i], value: v, itemStyle: { color: PIE_COLORS[i] } }))
}));
txt(655, 788, '% of activated', { size: 30, color: '#222' });
txt(655, 825, 'genes', { size: 30, color: '#222' });
graphic.push({ type: 'polyline', silent: true, shape: { points: [[716, 916], [742, 916], [742, 1278], [717, 1278]] }, style: { fill: 'none', stroke: '#222', lineWidth: 2 } });
const pRich = { i: { font: `italic 27px ${FONT}`, fill: '#111' }, n: { font: `27px ${FONT}`, fill: '#111' } };
txt(796, 1095, '{i|P activated} {n|< 0.0001}', { rotate: -90, rich: pRich });
txt(762, 1094, '{i|P activated-day12}{n|< 0.0001}', { rotate: -90, rich: pRich });
graphic.push({ type: 'rect', silent: true, shape: { x: 519, y: 1361, width: 47, height: 23 }, style: { fill: '#0caf50' } });
graphic.push({ type: 'rect', silent: true, shape: { x: 664, y: 1361, width: 49, height: 23 }, style: { fill: '#0a96f8' } });
txt(570, 1372, 'Day12', { size: 25, align: 'left' });
txt(716, 1372, 'Day16', { size: 25, align: 'left' });

// --- panel D, coverage tracks
function track (left, right, base, height, max, values, color, lineColor, lineWidth) {
  const i = addAxes({ left, top: base - height, width: right - left, height },
    { type: 'category', boundaryGap: false, data: values.map((v, k) => k), axisLine: { lineStyle: { color: lineColor, width: lineWidth } }, axisTick: hidden, axisLabel: hidden },
    { type: 'value', min: 0, max, show: false });
  addSeries({
    type: 'line', xAxisIndex: i, yAxisIndex: i, data: values, step: 'middle', showSymbol: false,
    lineStyle: { color, width: .6 }, areaStyle: { color, opacity: 1 }
  });
}
const L = [915.5, 1182], R = [1237, 1505];
const TRACKS = [
  [744, 744, k4Fndc5, k4Esx1, '#1a2ab4', 20],
  [823, 823, wtFndc5, wtEsx1, '#0f3d0f', 25],
  [904, 904, day5Fndc5, day5Esx1, '#3f6a10', 25],
  [985, 985, day9Fndc5, day9Esx1, '#3f9a10', 25],
  [1066, 1064, day12Fndc5, day12Esx1, '#62c90e', 25],
  [1147, 1146, day14Fndc5, day14Esx1, '#9bcb12', 25],
  [1228, 1227, day17Fndc5, day17Esx1, '#9a8f0f', 25],
  [1309, 1307, day21Fndc5, day21Esx1, '#5c5c10', 25]
];
TRACKS.forEach(t => {
  track(L[0], L[1], t[0], 70, t[5], t[2], t[4], '#c4c4c4', 2);
  track(R[0], R[1], t[1], 70, t[5], t[3], t[4], '#c4c4c4', 2);
});
txt(1100, 685, '{b|H3K4me2} {n|(0-20)}', { align: 'left', rich: { b: { font: `bold 34px ${FONT}`, fill: '#111' }, n: { font: `34px ${FONT}`, fill: '#222' } } });
txt(884, 972, '{b|H3K27me3} {n|(0-25)}', { rotate: 90, rich: { b: { font: `bold 35px ${FONT}`, fill: '#111' }, n: { font: `35px ${FONT}`, fill: '#222' } } });
txt(1170, 783, 'WT', { size: 30, style: 'italic', color: '#0bb05a', align: 'left' });
[['Day\u00a0 5', 866], ['Day\u00a0 9', 943], ['Day\u00a0 12', 1021], ['Day\u00a0 14', 1098], ['Day\u00a0 17', 1176], ['Day\u00a0 21', 1253]].forEach(d => txt(1169, d[1], d[0], { size: 28, color: '#0bb05a', align: 'left' }));

// --- panel D, gene models
function geneModel (left, right, center, exons, intron, arrows, arrowPath) {
  const i = addAxes({ left, top: center - 16, width: right - left, height: 32 }, { type: 'value', min: 0, max: 100, show: false }, { type: 'value', min: -1.1, max: 1.1, show: false });
  addSeries({ type: 'line', xAxisIndex: i, yAxisIndex: i, showSymbol: false, data: [[intron[0], 0], [intron[1], 0]], lineStyle: { color: '#2a2ad8', width: 2 } });
  addSeries({
    type: 'custom', xAxisIndex: i, yAxisIndex: i, data: exons,
    renderItem (params, api) {
      const a = api.coord([api.value(0), api.value(2)]);
      const b = api.coord([api.value(1), -api.value(2)]);
      return { type: 'rect', shape: { x: a[0], y: a[1], width: b[0] - a[0], height: b[1] - a[1] }, style: { fill: '#0a22b0' } };
    }
  });
  addSeries({
    type: 'scatter', xAxisIndex: i, yAxisIndex: i, data: arrows.map(a => [a, 0]), symbol: arrowPath, symbolSize: [5, 10],
    itemStyle: { opacity: 1, color: 'rgba(0,0,0,0)', borderColor: '#2a2ad8', borderWidth: 1 }
  });
}
geneModel(L[0], L[1], 1332, fndc5Exons, fndc5Intron, fndc5Arrows, 'path://M0,0L1,1L0,2');
geneModel(R[0], R[1], 1331, esx1Exons, esx1Intron, esx1Arrows, 'path://M1,0L0,1L1,2');
txt(1075, 1375, 'Fndc5', { size: 35, style: 'italic' });
txt(1339, 1372, 'Esx1', { size: 34, style: 'italic' });

// --- panel D, mRNA tracks
const FL = [1536, 1701], EL = [1777, 1931];
[[822, 826, mrnaFndc5WT, mrnaEsx1WT], [903, 903, mrnaFndc5D9, mrnaEsx1D9], [985, 985, mrnaFndc5D14, mrnaEsx1D14], [1064, 1063, mrnaFndc5D21, mrnaEsx1D21], [1143, 1143, mrnaFndc5D30, mrnaEsx1D30]].forEach(t => {
  track(FL[0], FL[1], t[0], 66, 11, t[2], '#000', '#000', 3);
  track(EL[0], EL[1], t[1], 66, 11, t[3], '#000', '#000', 3);
});
txt(1715, 685, 'mRNA', { size: 33, weight: 'bold' });
txt(1688, 787, 'WT', { size: 30, style: 'italic', align: 'left' });
[['Day\u00a0 9', 864], ['Day\u00a0 14', 942], ['Day\u00a0 21', 1019], ['Day\u00a0 30', 1097]].forEach(d => txt(1688, d[1], d[0], { size: 28, align: 'left' }));
txt(1620, 1168, 'Fndc5', { size: 34, style: 'italic' });
txt(1853, 1168, 'Esx1', { size: 34, style: 'italic' });
txt(1620, 1209, '(0-10)', { size: 33, color: '#222' });
txt(1853, 1209, '(0-10)', { size: 33, color: '#222' });

// panel letters
txt(28, 32, 'A', { size: 56, weight: 'bold', color: '#000' });
txt(1000, 32, 'B', { size: 56, weight: 'bold', color: '#000' });
txt(28, 719, 'C', { size: 56, weight: 'bold', color: '#000' });
txt(862, 665, 'D', { size: 56, weight: 'bold', color: '#000' });

const chart = echarts.init(document.getElementById('main'), null, { renderer: 'canvas' });
chart.setOption({
  backgroundColor: '#fff',
  animation: false,
  textStyle: { fontFamily: FONT },
  grid, xAxis, yAxis, series, graphic,
  visualMap: [
    { show: false, type: 'continuous', dimension: 2, min: 0, max: 1, seriesIndex: expressionSeries, inRange: { color: SCALE } },
    { show: false, type: 'continuous', dimension: 2, min: 0, max: 8, seriesIndex: k4Series, inRange: { color: ['#f5f9fd', '#dceaf5', '#c0d8ec', '#9cc3e0', '#74a9d2', '#4f8fc2', '#2f72ae', '#1a5a98', '#0c3f7c'] } },
    { show: false, type: 'continuous', dimension: 2, min: 0, max: 6, seriesIndex: k27Series, inRange: { color: ['#fef0ea', '#fbdfd5', '#f6c3b2', '#ec9a83', '#d96a53', '#bf3b2d', '#98201a'] } }
  ]
});
</script>
</body>
</html>
